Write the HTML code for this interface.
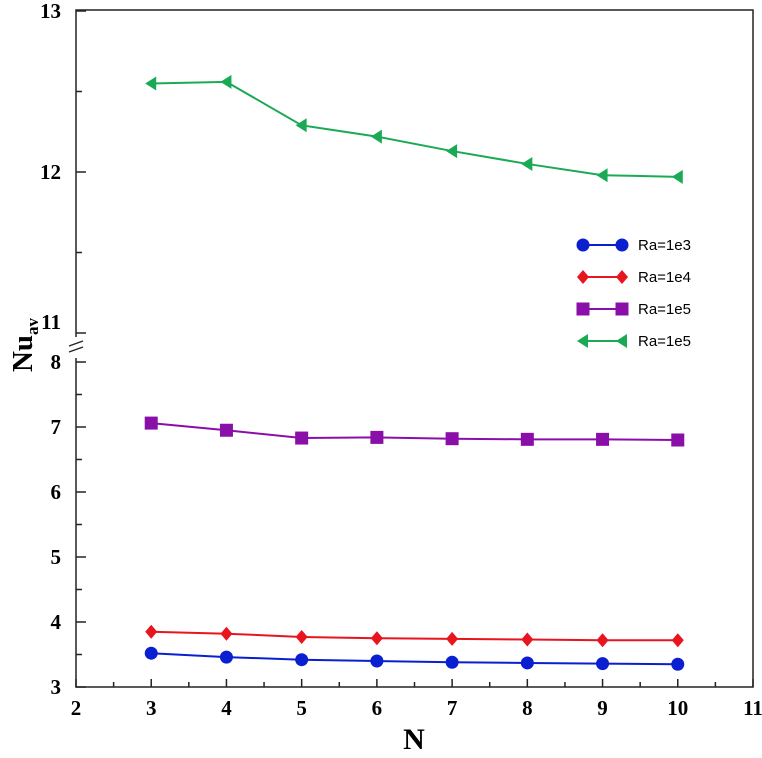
<!DOCTYPE html>
<html><head><meta charset="utf-8"><style>
body{margin:0;background:#fff}
svg text{font-family:"Liberation Serif",serif;font-weight:bold;fill:#000}
</style></head><body>
<svg id="c" width="762" height="753"></svg>
<script>
const nValues=[3,4,5,6,7,8,9,10];
const ra1e3=[3.52,3.46,3.42,3.40,3.38,3.37,3.36,3.35];
const ra1e4=[3.85,3.82,3.77,3.75,3.74,3.73,3.72,3.72];
const ra1e5=[7.06,6.95,6.83,6.84,6.82,6.81,6.81,6.80];
const ra1e5b=[12.55,12.56,12.29,12.22,12.13,12.05,11.98,11.97];
const xTicks=[2,3,4,5,6,7,8,9,10,11];
const yTicksLow=[3,4,5,6,7,8];
const yTicksHigh=[11,12,13];
const legendLabels=["Ra=1e3","Ra=1e4","Ra=1e5","Ra=1e5"];
const NS="http://www.w3.org/2000/svg";
const svg=document.getElementById('c');
const L=76,R=753,T=10,B=687;
function xs(v){return L+(v-2)*(R-L)/9;}
function ys(v){return v<=9?687-(v-3)*65:172-(v-12)*161;}
function mk(t,a,p){const e=document.createElementNS(NS,t);for(const k in a)e.setAttribute(k,a[k]);(p||svg).appendChild(e);return e;}
let fr=mk('rect',{x:L,y:T,width:R-L,height:B-T,fill:'none',stroke:'#222','stroke-width':1.5});


xTicks.forEach(v=>{
 const x=xs(v);
 let t=mk('line',{x1:x,x2:x,y1:B,y2:B-8,stroke:'#222','stroke-width':1.5});
 
 
 if(v<11){mk('line',{x1:xs(v+0.5),x2:xs(v+0.5),y1:B,y2:B-5,stroke:'#222','stroke-width':1.5});}
 let l=mk('text',{x:x,y:B+28,'text-anchor':'middle','font-size':21});l.textContent=v;
 
 
});
yTicksLow.forEach(v=>{
 const y=ys(v);
 mk('line',{x1:L,x2:L+10,y1:y,y2:y,stroke:'#222','stroke-width':1.5});
 if(v<8)mk('line',{x1:L,x2:L+6,y1:ys(v+0.5),y2:ys(v+0.5),stroke:'#222','stroke-width':1.5});
 let l=mk('text',{x:L-15,y:y+7,'text-anchor':'end','font-size':21});l.textContent=v;
 
 
});
yTicksHigh.forEach(v=>{
 const y=ys(v);
 mk('line',{x1:L,x2:L+10,y1:y,y2:y,stroke:'#222','stroke-width':1.5});
 if(v<13)mk('line',{x1:L,x2:L+6,y1:ys(v+0.5),y2:ys(v+0.5),stroke:'#222','stroke-width':1.5});
 let l=mk('text',{x:L-15,y:(v==11?y-4:y+7),'text-anchor':'end','font-size':21});l.textContent=v;
 
 
});
mk('rect',{x:L-2,y:ys(11)+4,width:4,height:ys(8)-ys(11)-8,fill:'#fff'});
mk('line',{x1:L-7,x2:L+7,y1:ys(11)+13,y2:ys(11)+8,stroke:'#222','stroke-width':1.3});
mk('line',{x1:L-7,x2:L+7,y1:ys(11)+19,y2:ys(11)+14,stroke:'#222','stroke-width':1.3});
let xt=mk('text',{x:414,y:749,'text-anchor':'middle','font-size':30});xt.textContent='N';


let yt=mk('text',{transform:'translate(32,345) rotate(-90)','text-anchor':'middle','font-size':29});
yt.innerHTML='Nu<tspan font-size="17" dy="6">av</tspan>';


function marker(kind,x,y,c,g){
 if(kind=='circle')return mk('circle',{cx:x,cy:y,r:6.5,fill:c},g);
 if(kind=='diamond')return mk('polygon',{points:`${x},${y-7} ${x+6},${y} ${x},${y+7} ${x-6},${y}`,fill:c},g);
 if(kind=='square')return mk('rect',{x:x-6.5,y:y-6.5,width:13,height:13,fill:c},g);
 return mk('polygon',{points:`${x-6},${y} ${x+5},${y-7} ${x+5},${y+7}`,fill:c},g);
}
const series=[[ra1e3,'#0a1fd0','circle','series-ra1e3'],[ra1e4,'#e8141e','diamond','series-ra1e4'],[ra1e5,'#8a0fa8','square','series-ra1e5'],[ra1e5b,'#1aaa55','triangle','series-ra1e5-green']];
series.forEach((s,i)=>{
 const g=mk('g',{});
 
 
 mk('polyline',{points:nValues.map((n,j)=>xs(n)+','+ys(s[0][j])).join(' '),fill:'none',stroke:s[1],'stroke-width':2},g);
 nValues.forEach((n,j)=>{const m=marker(s[2],xs(n),ys(s[0][j]),s[1],g);
  
  });
 const ly=245+i*32;
 const lg=mk('g',{});
 
 
 mk('line',{x1:583,x2:622,y1:ly,y2:ly,stroke:s[1],'stroke-width':2},lg);
 marker(s[2],583,ly,s[1],lg);marker(s[2],622,ly,s[1],lg);
 const t=mk('text',{x:638,y:ly+5,'font-size':15,style:'font-family:"Liberation Sans",sans-serif;font-weight:normal'},lg);
 t.textContent=legendLabels[i];
});
</script>
</body></html>
